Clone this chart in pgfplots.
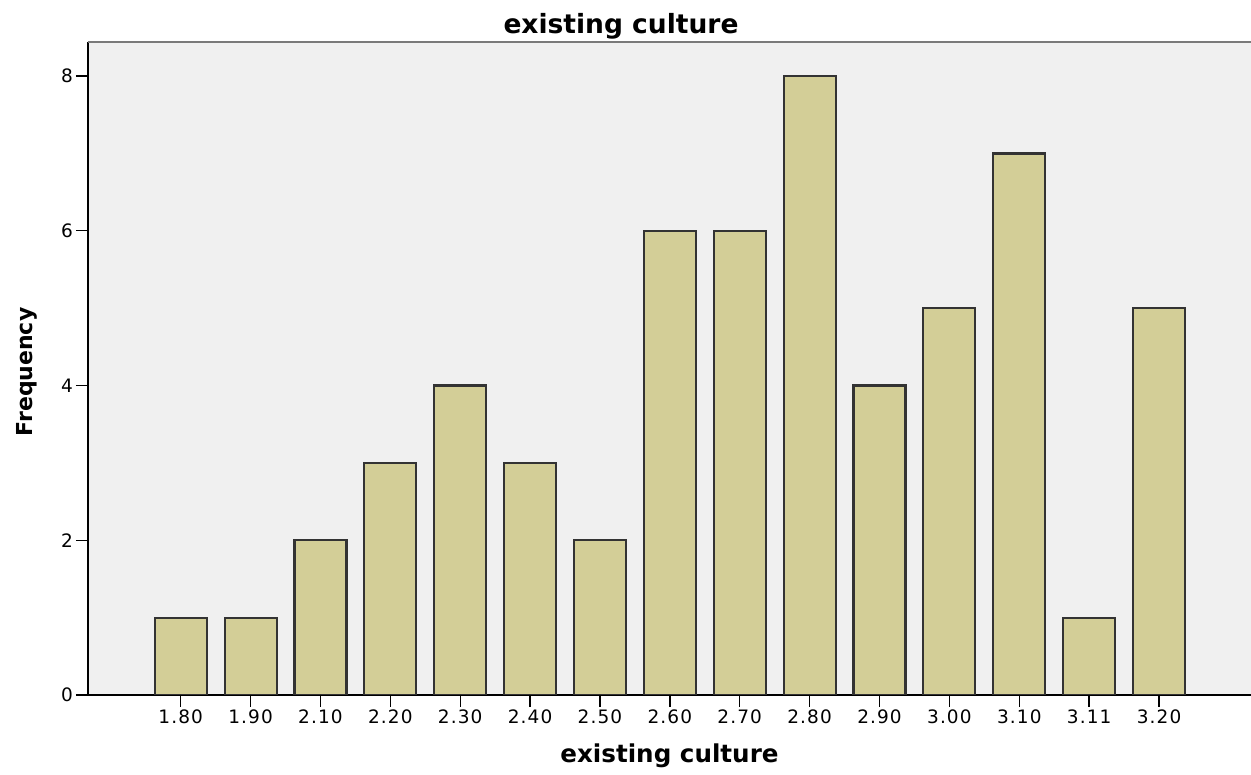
\documentclass[border=0pt]{standalone}
\usepackage{fontspec}
\setmainfont{DejaVu Sans}
\newfontfamily\tickfont[LetterSpace=6]{DejaVu Sans}
\usepackage{pgfplots}
\pgfplotsset{compat=1.18}
\definecolor{bggray}{HTML}{F0F0F0}
\definecolor{barfill}{HTML}{D3CE97}
\definecolor{topline}{HTML}{7A7A7A}
\begin{document}
\begin{tikzpicture}
\useasboundingbox (0,0) rectangle (1251pt,775pt);
\begin{axis}[
  at={(88pt,80pt)}, anchor=south west,
  scale only axis,
  width=1163pt, height=653pt,
  xmin=-1.327, xmax=15.316,
  ymin=0, ymax=8.44,
  axis x line*=bottom, axis y line*=left,
  axis line style={-, black, line width=1.6pt},
  axis background/.style={fill=bggray},
  xtick=data,
  xticklabels={1.80,1.90,2.10,2.20,2.30,2.40,2.50,2.60,2.70,2.80,2.90,3.00,3.10,3.11,3.20},
  ytick={0,2,4,6,8},
  tick align=outside,
  major tick length=12pt,
  tick style={black, line width=1.4pt},
  /pgf/number format/assume math mode=true,
  ticklabel style={font=\tickfont\fontsize{18.5}{22}\selectfont},
  xticklabel style={anchor=north, inner sep=0pt, yshift=-3pt},
  yticklabel style={anchor=east, inner sep=0pt, xshift=-3pt},
  title={existing culture},
  title style={at={(axis description cs:0.4583,1)}, anchor=base, yshift=2pt, font=\fontsize{26.5}{30}\selectfont\bfseries},
  xlabel={existing culture},
  xlabel style={at={(axis description cs:0.5,0)}, anchor=base, yshift=-68pt, font=\fontsize{24.6}{28}\selectfont\bfseries},
  ylabel={Frequency},
  ylabel style={at={(axis description cs:-0.05245,0.4946)}, anchor=center, font=\fontsize{22}{26}\selectfont\bfseries},
  after end axis/.code={\draw[topline, line width=2.5pt] (rel axis cs:0,1) -- (rel axis cs:1,1);},
]
\addplot[ybar, bar width=52pt, fill=barfill, draw=black!80, line width=2.2pt]
  coordinates {(0,1) (1,1) (2,2) (3,3) (4,4) (5,3) (6,2) (7,6) (8,6) (9,8) (10,4) (11,5) (12,7) (13,1) (14,5)};
\end{axis}
\end{tikzpicture}
\end{document}
